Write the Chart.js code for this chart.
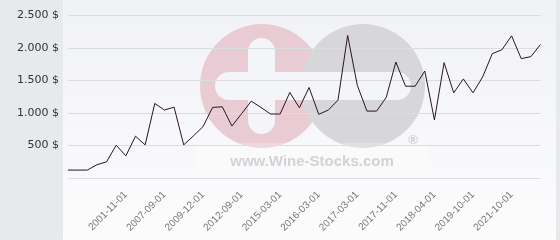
<!DOCTYPE html>
<html>
<head>
<meta charset="utf-8">
<script src="https://cdn.jsdelivr.net/npm/chart.js@4"></script>
<style>
html, body { margin: 0; padding: 0; background: #f5f6f9; }
</style>
</head>
<body>
<canvas id="priceChart" width="560" height="240"></canvas>
<script>
// categories: only the dates that are printed on the axis are known
const dates = [
  "", "", "", "", "", "", "2001-11-01", "", "", "",
  "2007-09-01", "", "", "", "2009-12-01", "", "", "", "2012-09-01", "",
  "", "", "2015-03-01", "", "", "", "2016-03-01", "", "", "",
  "2017-03-01", "", "", "", "2017-11-01", "", "", "", "2018-04-01", "",
  "", "", "2019-10-01", "", "", "", "2021-10-01", "", "", ""
];
const prices = [
  122, 122, 122, 204, 250, 505, 341, 643, 510, 1148,
  1046, 1091, 510, 648, 790, 1087, 1096, 800, 990, 1183,
  1087, 985, 985, 1317, 1081, 1393, 980, 1046, 1199, 2194,
  1428, 1030, 1030, 1240, 1785, 1413, 1413, 1647, 893, 1776,
  1311, 1525, 1311, 1556, 1914, 1975, 2189, 1837, 1868, 2056
];
const yMax = 2500;
const yStep = 500;

const ctxEl = document.getElementById("priceChart");

// page background, grey side panel and the watermark logo
const backdrop = {
  id: "backdrop",
  beforeDraw(chart) {
    const c = chart.ctx;
    c.save();
    let g = c.createLinearGradient(0, 0, 0, 240);
    g.addColorStop(0, "#f1f2f6");
    g.addColorStop(1, "#fcfcfd");
    c.fillStyle = g;
    c.fillRect(0, 0, 560, 240);
    c.fillStyle = "#e7eaed";
    c.fillRect(0, 0, 63, 240);
    c.fillRect(556, 0, 4, 240);

    // logo
    c.fillStyle = "#e9ccd3";
    c.beginPath();
    c.arc(262, 86, 62, 0, Math.PI * 2);
    c.fill();
    c.fillStyle = "#d7d7d9";
    c.beginPath();
    c.arc(363, 86, 62, 0, Math.PI * 2);
    c.fill();
    c.fillStyle = "#f4f5f8";
    c.beginPath();
    c.roundRect(215, 72, 196, 28, 14);
    c.fill();
    c.beginPath();
    c.roundRect(248, 38, 27, 96, 13.5);
    c.fill();

    c.fillStyle = "rgba(255,255,255,0.25)";
    c.fillRect(197, 143, 230, 32);
    c.fillStyle = "#d3d3d6";
    c.font = "bold 15px 'Liberation Sans'";
    c.textAlign = "center";
    c.textBaseline = "alphabetic";
    c.fillText("www.Wine-Stocks.com", 312, 166);
    c.fillStyle = "#cdcdd0";
    c.font = "bold 13px 'Liberation Sans'";
    c.fillText("\u00ae", 413, 144);
    c.restore();
  }
};

var chart = new Chart(ctxEl, {
  type: "line",
  data: {
    labels: dates,
    datasets: [
      {
        label: "Price",
        data: prices,
        borderColor: "#2a1520",
        borderWidth: 1,
        pointRadius: 0,
        tension: 0,
        fill: false,
      },
    ],
  },
  options: {
    responsive: false,
    animation: false,
    layout: { padding: { top: 15, right: 5, left: 0, bottom: 0 } },
    plugins: {
      legend: { display: false },
      tooltip: { enabled: false },
    },
    scales: {
      x: {
        grid: { display: false, drawTicks: false },
        border: { display: false },
        ticks: {
          autoSkip: false,
          minRotation: 45,
          maxRotation: 45,
          padding: 11,
          color: "#777",
          font: { family: "'Liberation Sans'", size: 10 },
        },
        afterFit(scale) {
          scale.height = 62;
        },
      },
      y: {
        min: 0,
        max: yMax,
        grid: { color: "#dcdde0", drawTicks: false },
        border: { display: false },
        ticks: {
          stepSize: yStep,
          padding: 9,
          color: "#333",
          font: { family: "'DejaVu Sans'", size: 11 },
          callback: (v) => (v === 0 ? "" : v.toLocaleString("de-DE") + " $"),
        },
        afterFit(scale) {
          scale.width = 68;
        },
      },
    },
  },
  plugins: [backdrop],
});
</script>
</body>
</html>
